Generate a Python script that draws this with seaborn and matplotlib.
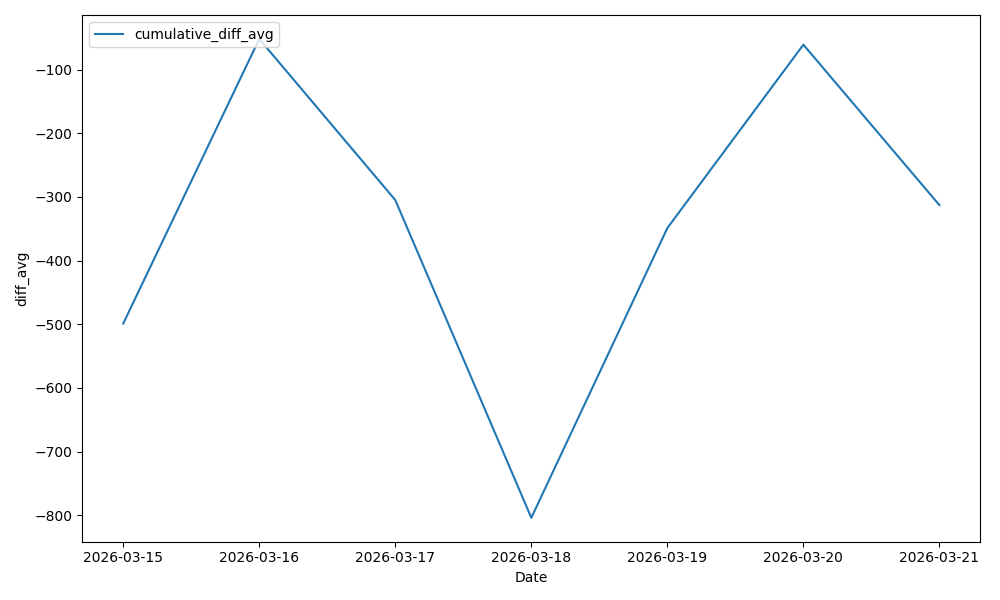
import pandas as pd
import seaborn as sns
import matplotlib.pyplot as plt
import matplotlib.dates as mdates

dates = ["2026-03-15", "2026-03-16", "2026-03-17", "2026-03-18",
         "2026-03-19", "2026-03-20", "2026-03-21"]
diff_avg = [-499, -52, -305, -804, -349, -61, -313]

df = pd.DataFrame({"Date": pd.to_datetime(dates), "diff_avg": diff_avg})

fig, ax = plt.subplots(figsize=(10, 6), dpi=100)
sns.lineplot(data=df, x="Date", y="diff_avg", label="cumulative_diff_avg", ax=ax)

ax.xaxis.set_major_locator(mdates.DayLocator())
ax.xaxis.set_major_formatter(mdates.DateFormatter("%Y-%m-%d"))
ax.legend(loc="upper left")

plt.tight_layout()
plt.savefig("out.png")
